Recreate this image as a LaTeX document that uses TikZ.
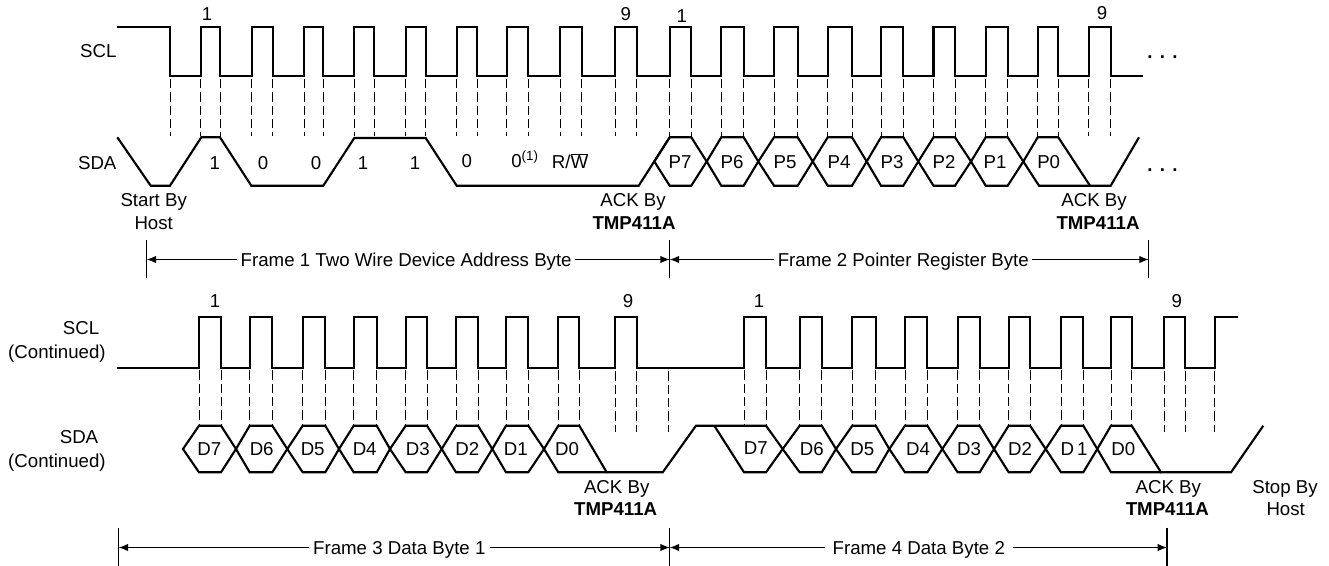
\documentclass[tikz,border=0pt]{standalone}
\usepackage{fontspec}
\setmainfont{Liberation Sans}
\usetikzlibrary{arrows.meta}

\newcommand{\pulsesA}{200.7/220,251.7/272.7,304/323.3,354.3/374.3,405.7/425.7,456.7/477.3,506.7/528,560.3/581.7,615.3/636.7,669.7/691.3,721.3/743.7,774/797.7,827.7/852,881/903.3,933.5/955,985.7/1007.7,1037.7/1058.3,1088.7/1110.7}
\newcommand{\pulsesB}{199/221,249.7/272.3,302.7/325.3,353.7/376.7,405.7/427,456/478,506/528.3,558.3/579.3,615/636.7,744/766,799.7/821.7,852.3/875.7,905/927.3,957.7/979.7,1008.7/1030,1061/1083.3,1111/1131.7,1164/1185}

\begin{document}
\begin{tikzpicture}[
					x=0.75pt, y=-0.75pt,
					sig/.style={line width=1.6pt},
					guide/.style={line width=0.7pt, dash pattern=on 7pt off 3pt},
					tick/.style={line width=0.8pt},
					dim/.style={line width=0.8pt, -{Latex[length=7pt,width=5.5pt]}},
					lbl/.style={inner sep=0pt, text height=10pt, text depth=0pt, font=\fontsize{14pt}{16pt}\selectfont}
					]
					\useasboundingbox (0,0) rectangle (1329,566);
					\draw[sig] (117,27) -- (170,27) -- (170,76)
						foreach \r/\f in \pulsesA { -- (\r,76) -- (\r,27) -- (\f,27) -- (\f,76) } -- (1143.3,76);
					\foreach \r/\f in \pulsesA {
						\draw[guide] (\r,79) -- (\r,136.5);
						\draw[guide] (\f,79) -- (\f,136.5);
					}
					\draw[guide] (170,79) -- (170,136.5);
					\draw[sig] (117.3,137.3) -- (150.7,185.7) -- (170,185.7) -- (201.3,137.3) -- (220,137.3) -- (251.3,185.7) -- (323.3,185.7) -- (354.3,138) -- (425.7,138) -- (456.7,185.7) -- (638.7,185.7) -- (669.7,137.3);
					\foreach \a/\b/\c/\d/\n/\t in {654.3/669.7/691.3/706.7/680/P7,706.7/721.3/743.7/758.3/732/P6,758.3/774/797.7/812.7/785/P5,812.7/827.7/852/866.7/839/P4,866.7/881/903.3/918.3/892/P3,918.3/933.5/955/971/944/P2,971/985.7/1007.7/1023.3/995/P1} {
						\draw[sig] (\a,161.5) -- (\b,137.3) -- (\c,137.3) -- (\d,161.5) -- (\c,185.7) -- (\b,185.7) -- cycle;
						\node[lbl] (\t) at (\n,161.5) {\t};
					}
					\draw[sig] (1023.3,161.5) -- (1037.7,137.3) -- (1058.3,137.3) -- (1090,185.7) -- (1110.7,185.7) -- (1139,137.3);
					\draw[sig] (1023.3,161.5) -- (1039,185.7) -- (1090,185.7);
					\node[lbl] (P0) at (1048.7,161.5) {P0};
					\node[lbl, anchor=east] (SCLtop) at (116.7,51) {SCL};
					\node[lbl, anchor=east] (SDAtop) at (116.7,163) {SDA};
					\node[lbl] (clkA) at (207,14) {1};
					\node[lbl] (clkB) at (625.7,14) {9};
					\node[lbl] (clkC) at (681.7,16) {1};
					\node[lbl] (clkD) at (1102,13) {9};
					\foreach \x/\t/\y/\n in {214.7/1/163/bitA,263/0/163/bitB,316/0/163/bitC,363/1/163/bitD,415/1/163/bitE,466.7/0/161/bitF} {
						\node[lbl] (\n) at (\x,\y) {\t};
					}
					\node[lbl, anchor=west] (bitG) at (511,161) {0\textsuperscript{\fontsize{10pt}{10pt}\selectfont(1)}};
					\node[lbl] (bitH) at (570,162) {R/$\overline{\mbox{W}}$};
					\node[lbl] (startA) at (153.7,200) {Start By};
					\node[lbl] (startB) at (153.7,223) {Host};
					\node[lbl] (ackA) at (633,200) {ACK By};
					\node[lbl] (tmpA) at (634,223) {\textbf{TMP411A}};
					\node[lbl] (ackB) at (1094,200) {ACK By};
					\node[lbl] (tmpB) at (1098,223) {\textbf{TMP411A}};
					\node[lbl] (dotsA) at (1162.5,52) {\textbf{.\hspace{5.5pt}.\hspace{5.5pt}.}};
					\node[lbl] (dotsB) at (1162.5,164.5) {\textbf{.\hspace{5.5pt}.\hspace{5.5pt}.}};
					\coordinate (tA1) at (146.7,240);
					\coordinate (tA2) at (146.7,278);
					\coordinate (tB1) at (669.7,240);
					\coordinate (tB2) at (669.7,278);
					\coordinate (tC1) at (1148.7,240);
					\coordinate (tC2) at (1148.7,278);
					\draw[tick] (tA1) -- (tA2);
					\draw[tick] (tB1) -- (tB2);
					\draw[tick] (tC1) -- (tC2);
					\node[lbl, inner xsep=2.5pt] (frameA) at (406.2,259.5) {Frame 1 Two Wire Device Address Byte};
					\node[lbl, inner xsep=2.5pt] (frameB) at (903.3,259.5) {Frame 2 Pointer Register Byte};
					\draw[dim] (frameA.west) -- (tA1 |- frameA);
					\draw[dim] (frameA.east) -- (tB1 |- frameA);
					\draw[dim] (frameB.west) -- (tB1 |- frameB);
					\draw[dim] (frameB.east) -- (tC1 |- frameB);

					\draw[sig] (116.7,367.7) foreach \r/\f in \pulsesB { -- (\r,367.7) -- (\r,317) -- (\f,317) -- (\f,367.7) } -- (1214.7,367.7) -- (1214.7,317) -- (1238.3,317);
					\foreach \r/\f in {199/221,249.7/272.3,302.7/325.3,353.7/376.7,405.7/427,456/478,506/528.3,558.3/579.3,744/766,799.7/821.7,852.3/875.7,905/927.3,957.7/979.7,1008.7/1030,1061/1083.3,1111/1131.7} {
						\draw[guide] (\r,370.5) -- (\r,425);
						\draw[guide] (\f,370.5) -- (\f,425);
					}
					\foreach \x in {615,636.7,668.7,1164,1185,1214.7} {
						\draw[guide] (\x,371.5) -- (\x,431.7);
					}
					\foreach \a/\b/\c/\d/\n/\t/\m in {183/199/221/236/209.3/D7/Da7,236/249.7/272.3/287.3/261.7/D6/Da6,287.3/302.7/325.3/339/312.7/D5/Da5,339/353.7/376.7/390/364.7/D4/Da4,390/405.7/427/441.7/417.7/D3/Da3,441.7/456/478/492.3/467.3/D2/Da2,492.3/506/528.3/544/515.7/D1/Da1,782.7/799.7/821.7/836/811.7/D6/Db6,836/852.3/875.7/889.3/862.3/D5/Db5,889.3/905/927.3/942.3/918/D4/Db4,942.3/957.7/979.7/994/969/D3/Db3,994/1008.7/1030/1045.7/1020/D2/Db2,1045.7/1061/1083.3/1097.3/1074/D\,1/Db1} {
						\draw[sig] (\a,449) -- (\b,425.7) -- (\c,425.7) -- (\d,449) -- (\c,472.3) -- (\b,472.3) -- cycle;
						\node[lbl] (\m) at (\n,449) {\t};
					}
					\draw[sig] (544,449) -- (558.3,425.7) -- (579.3,425.7) -- (606.7,472.3) -- (662.7,472.3) -- (696,425.7) -- (766,425.7) -- (782.7,449) -- (766,472.3) -- (744,472.3) -- (714.3,425.7);
					\draw[sig] (544,449) -- (558.3,472.3) -- (606.7,472.3);
					\draw[sig] (1097.3,449) -- (1111,425.7) -- (1131.7,425.7) -- (1161,472.3) -- (1231,472.3) -- (1263.3,425.7);
					\draw[sig] (1097.3,449) -- (1111,472.3) -- (1161,472.3);
					\node[lbl] (Da0) at (567,449) {D0};
					\node[lbl] (Db7) at (755.7,448) {D7};
					\node[lbl] (Db0) at (1123.3,449) {D0};
					\node[lbl] (SCLbot) at (81,328) {SCL};
					\node[lbl, anchor=east] (contA) at (106,351.7) {(Continued)};
					\node[lbl] (SDAbot) at (79,436.7) {SDA};
					\node[lbl, anchor=east] (contB) at (106,461) {(Continued)};
					\node[lbl] (clkE) at (215,300.7) {1};
					\node[lbl] (clkF) at (628,300.7) {9};
					\node[lbl] (clkG) at (759,300.7) {1};
					\node[lbl] (clkH) at (1176.7,300.7) {9};
					\node[lbl] (ackC) at (616.7,487) {ACK By};
					\node[lbl] (tmpC) at (615.7,509.3) {\textbf{TMP411A}};
					\node[lbl] (ackD) at (1168.3,487) {ACK By};
					\node[lbl] (tmpD) at (1167.3,509.3) {\textbf{TMP411A}};
					\node[lbl] (stopA) at (1285,487) {Stop By};
					\node[lbl] (stopB) at (1285.7,509.3) {Host};
					\coordinate (tD1) at (118.7,527.7);
					\coordinate (tD2) at (118.7,566);
					\coordinate (tE1) at (669.7,527.7);
					\coordinate (tE2) at (669.7,566);
					\coordinate (tF1) at (1167,527.7);
					\coordinate (tF2) at (1167,566);
					\draw[tick] (tD1) -- (tD2);
					\draw[tick] (tE1) -- (tE2);
					\draw[tick] (tF1) -- (tF2);
					\node[lbl, inner xsep=3pt] (frameC) at (399.3,547.5) {Frame 3 Data Byte 1};
					\node[lbl, inner xsep=5.5pt] (frameD) at (918.8,547.5) {Frame 4 Data Byte 2};
					\draw[dim] (frameC.west) -- (tD1 |- frameC);
					\draw[dim] (frameC.east) -- (tE1 |- frameC);
					\draw[dim] (frameD.west) -- (tE1 |- frameD);
					\draw[dim] (frameD.east) -- (tF1 |- frameD);
				\end{tikzpicture}
\end{document}
